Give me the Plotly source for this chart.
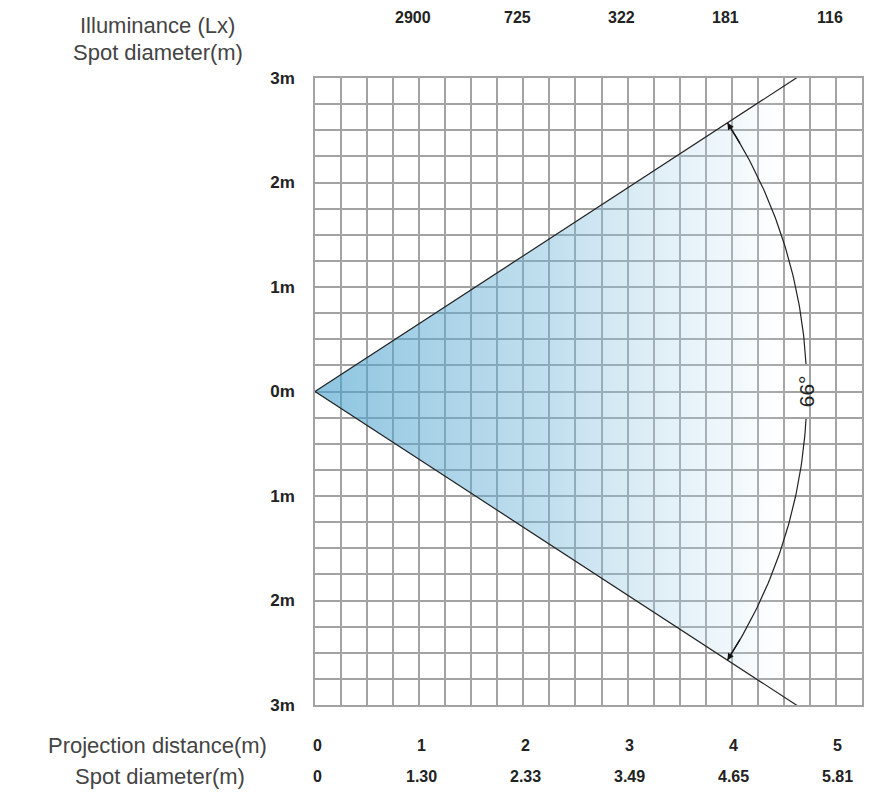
import numpy as np
import plotly.graph_objects as go

# data
distances = [0, 1, 2, 3, 4, 5]
spot_diameters = ["0", "1.30", "2.33", "3.49", "4.65", "5.81"]
illum_distances = [1, 2, 3, 4, 5]
illuminance = ["2900", "725", "322", "181", "116"]
beam_angle = 66
y_tick_vals = [3, 2, 1, 0, -1, -2, -3]
y_tick_text = ["3m", "2m", "1m", "0m", "1m", "2m", "3m"]

half = np.radians(beam_angle / 2)
y_max = 3.0
x_edge = y_max / np.tan(half)
arc_r = 4.72

fig = go.Figure()

# beam cone with gradient fill
fig.add_trace(go.Scatter(
    x=[0, x_edge, x_edge, 0], y=[0, y_max, -y_max, 0],
    fill="toself", mode="none",
    fillgradient=dict(type="horizontal", colorscale=[
        [0, "rgba(70,160,205,0.62)"],
        [0.5, "rgba(110,180,215,0.42)"],
        [0.88, "rgba(190,222,240,0.22)"],
        [1, "rgba(255,255,255,0)"]]),
    hoverinfo="skip", showlegend=False))

# cone edges
for s in (1, -1):
    fig.add_trace(go.Scatter(
        x=[0, x_edge * 1.01], y=[0, s * y_max * 1.01], mode="lines",
        line=dict(color="#222", width=1.2), hoverinfo="skip", showlegend=False))

# angle arc, broken around the label
gap = np.radians(3.2)
for a0, a1 in ((gap, half), (-half, -gap)):
    t = np.linspace(a0, a1, 60)
    fig.add_trace(go.Scatter(
        x=arc_r * np.cos(t), y=arc_r * np.sin(t), mode="lines",
        line=dict(color="#222", width=1.2), hoverinfo="skip", showlegend=False))

# arrowheads at arc ends
for s in (1, -1):
    a_end = s * half
    a_in = s * (half - np.radians(3))
    fig.add_annotation(
        x=arc_r * np.cos(a_end), y=arc_r * np.sin(a_end),
        ax=arc_r * np.cos(a_in), ay=arc_r * np.sin(a_in),
        axref="x", ayref="y", xref="x", yref="y", text="",
        showarrow=True, arrowhead=2, arrowsize=1.1, arrowwidth=1.2, arrowcolor="#111")

fig.add_annotation(x=arc_r, y=0, text=f"{beam_angle}°", showarrow=False,
                   textangle=-90, font=dict(family="Liberation Sans, Arial", size=21, color="#222"))

narrow = dict(family="Liberation Sans Narrow, Liberation Sans, Arial", size=16, color="#222")
bold = dict(family="Liberation Sans, Arial", size=16, color="#222")
label_font = dict(family="Liberation Sans, Arial", size=22, color="#444")

for x, v in zip(illum_distances, illuminance):
    fig.add_annotation(x=x, y=1, xref="x", yref="paper", yshift=61, xshift=-6,
                       yanchor="middle", text=f"<b>{v}</b>", showarrow=False, font=narrow)

for x, d in zip(distances, spot_diameters):
    fig.add_annotation(x=x, y=0, xref="x", yref="paper", yshift=-40, xshift=2,
                       yanchor="middle", text=f"<b>{x}</b>", showarrow=False, font=bold)
    fig.add_annotation(x=x, y=0, xref="x", yref="paper", yshift=-71, xshift=2,
                       yanchor="middle", text=f"<b>{d}</b>", showarrow=False, font=bold)

side_labels = [("Illuminance (Lx)", 1, 53, 157), ("Spot diameter(m)", 1, 26, 158),
               ("Projection distance(m)", 0, -40, 157), ("Spot diameter(m)", 0, -71, 160)]
for txt, yp, shift, cx in side_labels:
    fig.add_annotation(x=(cx - 315) / 547, y=yp, xref="paper", yref="paper", yshift=shift,
                       xanchor="center", yanchor="middle",
                       text=txt, showarrow=False, font=label_font)

grid = "#a3a3a3"
fig.update_xaxes(range=[0, 5.25], dtick=1, showticklabels=False, showgrid=True,
                 gridcolor=grid, gridwidth=1.5, zeroline=False,
                 minor=dict(dtick=0.25, showgrid=True, gridcolor=grid, gridwidth=1.5),
                 showline=True, mirror=True, linecolor=grid, linewidth=1.5)
fig.update_yaxes(range=[-3, 3], tickvals=y_tick_vals, ticktext=[f"<b>{t}</b>" for t in y_tick_text],
                 tickfont=dict(family="Liberation Sans, Arial", size=17, color="#222"),
                 ticklabelstandoff=15, showgrid=True, gridcolor=grid, gridwidth=1.5,
                 zeroline=False,
                 minor=dict(dtick=0.25, showgrid=True, gridcolor=grid, gridwidth=1.5),
                 showline=True, mirror=True, linecolor=grid, linewidth=1.5)

# page body adds ~8px offset, so the figure is sized a bit smaller than the window
fig.update_layout(width=869, height=789, margin=dict(l=307, r=15, t=70, b=92),
                  plot_bgcolor="white", paper_bgcolor="white", showlegend=False)
fig.write_html("out.html")
